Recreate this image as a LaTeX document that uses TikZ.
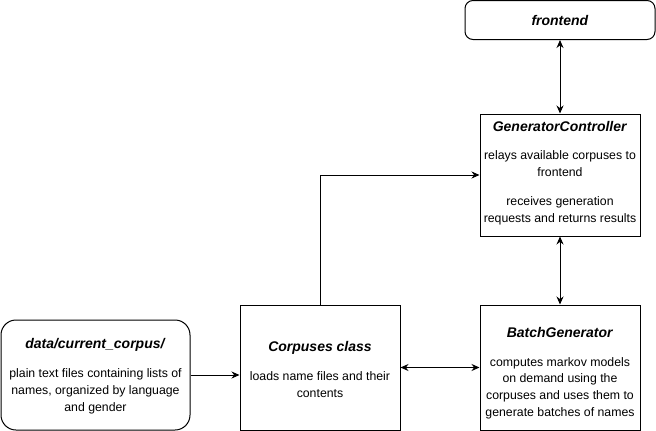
\documentclass[tikz,border=0pt]{standalone}
\usepackage{fontspec}
\setmainfont{Liberation Sans}
\usetikzlibrary{arrows.meta}
\newcommand{\ttl}[1]{{\fontsize{14}{17}\selectfont\textbf{\textit{#1}}}}
\begin{document}
\begin{tikzpicture}[x=1pt,y=-1pt,
  box/.style={draw=black, line width=1pt, inner sep=0pt, fill=white},
  txt/.style={align=center, inner sep=0pt, font=\fontsize{12.3}{16.8}\selectfont},
  arr/.style={line width=1pt, -{Stealth[length=8pt,width=7pt]}},
  darr/.style={line width=1pt, {Stealth[length=8pt,width=7pt]}-{Stealth[length=8pt,width=7pt]}}]
\useasboundingbox (0,0) rectangle (656,431);
% boxes
\node[box, rounded corners=8pt, minimum width=190pt, minimum height=39pt] (fe) at (560,20) {};
\node[box, minimum width=160pt, minimum height=122pt] (gc) at (560,175) {};
\node[box, minimum width=160pt, minimum height=125pt] (bg) at (560,367.5) {};
\node[box, minimum width=160pt, minimum height=125pt] (corp) at (320,367.5) {};
\node[box, rounded corners=15pt, minimum width=189pt, minimum height=110pt] (data) at (95.5,375) {};
% texts
\node[txt] (fet) at (fe.center) {\ttl{frontend}};
\node[txt] (gct) at (560,173) {\ttl{GeneratorController}\\[12pt]relays available corpuses to\\frontend\\[12pt]receives generation\\requests and returns results};
\node[txt] (bgt) at (560,373) {\ttl{BatchGenerator}\\[12pt]computes markov models\\on demand using the\\corpuses and uses them to\\generate batches of names};
\node[txt] (corpt) at (320,369.5) {\ttl{Corpuses class}\\[12pt]loads name files and their\\contents};
\node[txt] (datat) at (95.5,376) {\ttl{data/current\_corpus/}\\[12pt]plain text files containing lists of\\names, organized by language\\and gender};
% connectors
\draw[arr] (data.east) -- (data.east -| corp.west);
\draw[darr] (corp.east) -- (bg.west);
\draw[arr] (corp.north) |- (gc.west);
\draw[darr] (gc.north) -- (fe.south);
\draw[darr] (gc.south) -- (bg.north);
\end{tikzpicture}
\end{document}
